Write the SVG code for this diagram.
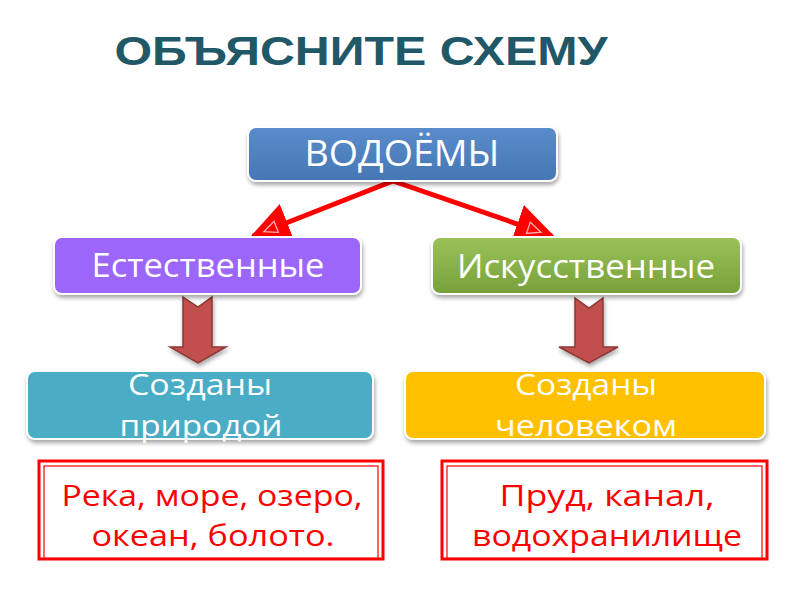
<svg xmlns="http://www.w3.org/2000/svg" width="800" height="600" viewBox="0 0 800 600">
<defs>
<filter id="sh" x="-10%" y="-20%" width="120%" height="150%">
<feGaussianBlur in="SourceAlpha" stdDeviation="2"/>
<feOffset dx="1" dy="3" result="b"/>
<feComponentTransfer><feFuncA type="linear" slope="0.35"/></feComponentTransfer>
<feMerge><feMergeNode/><feMergeNode in="SourceGraphic"/></feMerge>
</filter>
<linearGradient id="gGreen" x1="0" y1="0" x2="0" y2="1">
<stop offset="0" stop-color="#9bc35a"/><stop offset="1" stop-color="#76a03a"/>
</linearGradient>
<linearGradient id="gBlue" x1="0" y1="0" x2="0" y2="1">
<stop offset="0" stop-color="#5a8ccb"/><stop offset="1" stop-color="#4677b4"/>
</linearGradient>
<marker id="ah" viewBox="0 0 12 12" refX="11" refY="6" markerWidth="8" markerHeight="8" orient="auto" markerUnits="strokeWidth">
<path d="M0,0 L12,6 L0,12 Z" fill="#ff0000"/>
<path d="M3.5,4.2 L7.5,6 L3.5,7.8 Z" fill="none" stroke="#ffb0b0" stroke-width="0.4"/>
</marker>
</defs>
<style>
.t{font-family:"Comic Sans MS","Open Sans","Liberation Sans",sans-serif;fill:#fff;text-anchor:middle}
.r{font-family:"Comic Sans MS","Open Sans","Liberation Sans",sans-serif;fill:#ff0000;text-anchor:middle;font-size:29px}
.box{stroke:#fff;stroke-width:2;filter:url(#sh)}
.blk{fill:#c0504d;stroke:#8c3836;stroke-width:1.5;filter:url(#sh)}
.rb{fill:#fff;stroke:#ff0000}
</style>
<rect width="800" height="600" fill="#fff"/>
<text x="361" y="65" font-family="Liberation Sans, Arial, sans-serif" font-weight="bold" font-size="41" fill="#215868" text-anchor="middle" textLength="493" lengthAdjust="spacingAndGlyphs">ОБЪЯСНИТЕ СХЕМУ</text>

<g id="connectors">
<path d="M393,181 L253,236" stroke="#ff0000" stroke-width="5" fill="none" marker-end="url(#ah)"/>
<path d="M393,181 L552,236" stroke="#ff0000" stroke-width="5" fill="none" marker-end="url(#ah)"/>
<path class="blk" d="M183,297 L198,307 L212,297 L212,347 L226,347 L198,363 L170,347 L183,347 Z"/>
<path class="blk" d="M575,298 L589,308 L603,298 L603,347 L618,347 L589,363 L559,347 L575,347 Z"/>
</g>

<g id="vodoemy">
<rect class="box" x="248" y="127" width="309" height="54" rx="8" fill="url(#gBlue)"/>
<text class="t" x="402" y="166" font-size="36" textLength="195" lengthAdjust="spacingAndGlyphs">ВОДОЁМЫ</text>
</g>

<g id="estestvennye">
<rect class="box" x="54" y="237" width="307" height="57" rx="8" fill="#9b66f9"/>
<text class="t" x="208" y="277" font-size="33" textLength="233" lengthAdjust="spacingAndGlyphs">Естественные</text>
</g>

<g id="iskusstvennye">
<rect class="box" x="432" y="237" width="309" height="57" rx="8" fill="url(#gGreen)"/>
<text class="t" x="586" y="278" font-size="33" textLength="258" lengthAdjust="spacingAndGlyphs">Искусственные</text>
</g>

<g id="prirodoy">
<rect class="box" x="27" y="371" width="346" height="68" rx="8" fill="#4bacc6"/>
<text class="t" x="200" y="395" font-size="30" textLength="144" lengthAdjust="spacingAndGlyphs">Созданы</text>
<text class="t" x="201" y="436" font-size="30" textLength="163" lengthAdjust="spacingAndGlyphs">природой</text>
</g>

<g id="chelovekom">
<rect class="box" x="405" y="371" width="360" height="68" rx="8" fill="#ffc000"/>
<text class="t" x="586" y="395" font-size="30" textLength="142" lengthAdjust="spacingAndGlyphs">Созданы</text>
<text class="t" x="586" y="436" font-size="30" textLength="182" lengthAdjust="spacingAndGlyphs">человеком</text>
</g>

<g id="natural-list">
<rect class="rb" x="39" y="461" width="344" height="98" stroke-width="3"/>
<rect class="rb" x="44" y="466" width="334" height="92" stroke-width="1.2"/>
<text class="r" x="212" y="506" textLength="301" lengthAdjust="spacingAndGlyphs">Река, море, озеро,</text>
<text class="r" x="213" y="546" textLength="243" lengthAdjust="spacingAndGlyphs">океан, болото.</text>
</g>

<g id="artificial-list">
<rect class="rb" x="442" y="461" width="325" height="98" stroke-width="3"/>
<rect class="rb" x="447" y="466" width="315" height="92" stroke-width="1.2"/>
<text class="r" x="607" y="506" textLength="215" lengthAdjust="spacingAndGlyphs">Пруд, канал,</text>
<text class="r" x="607" y="546" textLength="270" lengthAdjust="spacingAndGlyphs">водохранилище</text>
</g>
</svg>
